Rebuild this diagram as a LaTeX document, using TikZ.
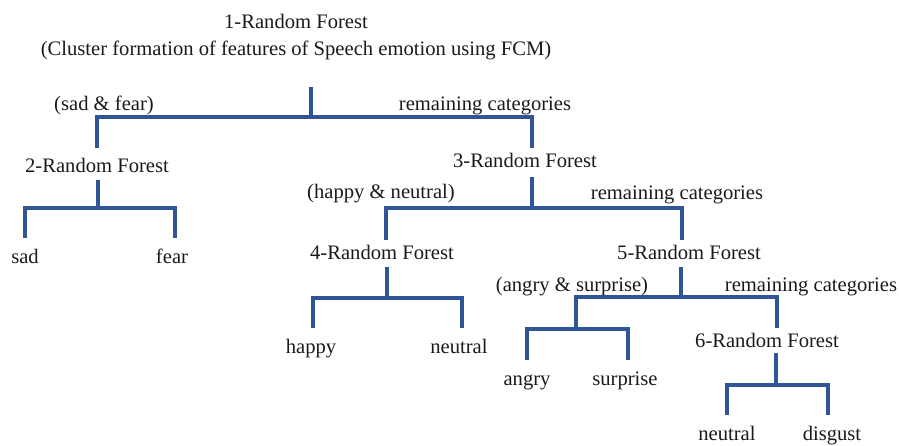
\documentclass[tikz,border=0pt]{standalone}
\usepackage{fontspec}
\setmainfont{Liberation Serif}
\usetikzlibrary{positioning}
\definecolor{treeBlue}{HTML}{2F5597}
\definecolor{treeText}{HTML}{1A1A1A}

\begin{document}
\begin{tikzpicture}[
    x=1pt, y=-1pt,
    txt/.style={inner sep=0pt, outer sep=0pt, text=treeText, font=\fontsize{20.6}{27}\selectfont, text height=14pt, text depth=4pt, anchor=base},
    rfbox/.style={txt},
    leaf/.style={txt},
    split/.style={txt},
    branch/.style={draw=treeBlue, line width=3.2pt},
    tonode/.style={branch, shorten >=5pt},
    toleaf/.style={branch, shorten >=11pt},
    stem/.style={branch, shorten <=4pt}
]
    \useasboundingbox (0,0) rectangle (899,445);

    \node[inner sep=0pt, text=treeText, font=\fontsize{20.6}{27}\selectfont, align=center, anchor=north] (rf1) at (296,14) {1-Random Forest\\(Cluster formation of features of Speech emotion using FCM)};
    \node[split] (sadfear) at (104,110) {(sad \& fear)};
    \node[split] (rest1) at (485,110) {remaining categories};
    \node[rfbox] (rf2) at (97,172) {2-Random Forest};
    \node[rfbox] (rf3) at (525,167) {3-Random Forest};
    \node[leaf] (sad) at (25,263) {sad};
    \node[leaf] (fear) at (172,263) {fear};
    \node[split] (happyneutral) at (381,198) {(happy \& neutral)};
    \node[split] (rest2) at (677,199) {remaining categories};
    \node[rfbox] (rf4) at (382,259) {4-Random Forest};
    \node[rfbox] (rf5) at (689,259) {5-Random Forest};
    \node[leaf] (happy) at (311,353) {happy};
    \node[leaf] (neutralA) at (459,353) {neutral};
    \node[split] (angrysurprise) at (572,291) {(angry \& surprise)};
    \node[split] (rest3) at (811,291) {remaining categories};
    \node[rfbox] (rf6) at (767,347) {6-Random Forest};
    \node[leaf] (angry) at (527,385) {angry};
    \node[leaf] (surprise) at (625,385) {surprise};
    \node[leaf] (neutralB) at (727,440) {neutral};
    \node[leaf] (disgust) at (832,440) {disgust};

    \coordinate (top1) at (311,87);
    \coordinate (j1) at (311,117);
    \coordinate (j2) at (98,208);
    \coordinate (j3) at (532,208);
    \coordinate (j4) at (387,298);
    \coordinate (j5) at (681,297);
    \coordinate (j5a) at (576,329);
    \coordinate (j6) at (776,385);

    \draw[branch] (top1) -- (j1);
    \draw[branch, shorten >=10pt] (j1) -| (rf2.north);
    \draw[tonode] (j1) -| ([xshift=7pt]rf3.north);

    \draw[stem] (rf2.south -| j2) -- (j2);
    \draw[toleaf] (j2) -| (sad.north);
    \draw[toleaf] (j2) -| ([xshift=3pt]fear.north);

    \draw[branch, shorten <=6pt] (rf3.south -| j3) -- (j3);
    \draw[tonode] (j3) -| ([xshift=4pt]rf4.north);
    \draw[tonode] (j3) -| ([xshift=-7pt]rf5.north);

    \draw[stem] (rf4.south -| j4) -- (j4);
    \draw[toleaf] (j4) -| ([xshift=2pt]happy.north);
    \draw[toleaf] (j4) -| ([xshift=3pt]neutralA.north);

    \draw[stem] (rf5.south -| j5) -- (j5);
    \draw[branch] (j5) -| (j5a);
    \draw[tonode] (j5) -| ([xshift=10pt]rf6.north);
    \draw[toleaf] (j5a) -| (angry.north);
    \draw[toleaf] (j5a) -| ([xshift=3pt]surprise.north);

    \draw[branch, shorten <=2pt] (rf6.south -| j6) -- (j6);
    \draw[toleaf] (j6) -| (neutralB.north);
    \draw[toleaf] (j6) -| ([xshift=-4pt]disgust.north);
\end{tikzpicture}
\end{document}
